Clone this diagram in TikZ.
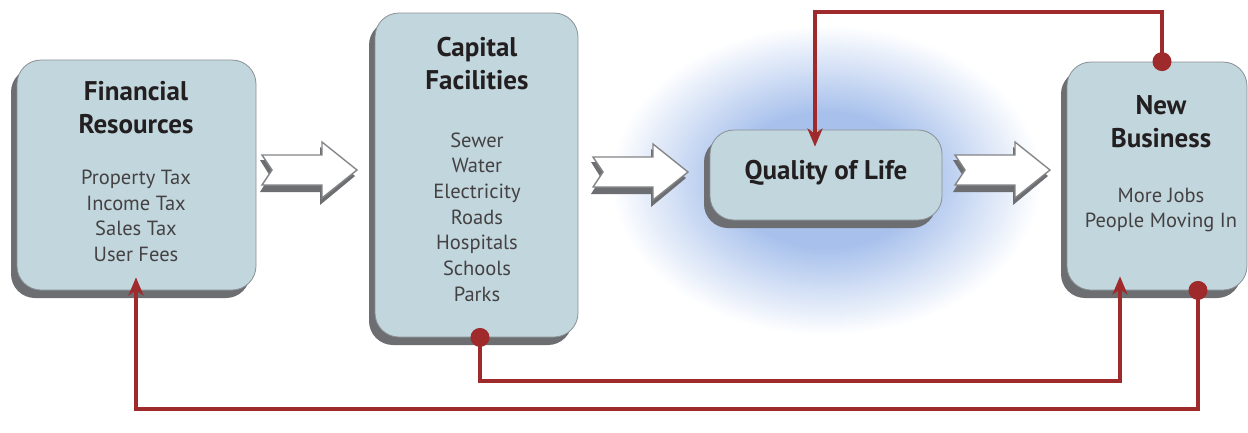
\documentclass[tikz,border=0pt]{standalone}
\usepackage{fontspec}
\setmainfont{PT Sans}
\usetikzlibrary{arrows.meta,shadows,calc}
\definecolor{boxfill}{HTML}{C2D6DE}
\definecolor{boxline}{HTML}{8A9094}
\definecolor{shadowgray}{HTML}{6D6E71}
\definecolor{loopred}{HTML}{9E2A2B}
\definecolor{glowblue}{HTML}{A8C1EC}
\definecolor{txt}{HTML}{231F20}
\pgfdeclareradialshading{qglow}{\pgfpoint{0bp}{0bp}}{color(0bp)=(glowblue); color(11bp)=(glowblue); color(25bp)=(white); color(50bp)=(white)}
\begin{document}
\begin{tikzpicture}[x=1pt,y=-1pt,
  box/.style={draw=boxline, line width=0.8pt, fill=boxfill, rounded corners=24pt,
    drop shadow={shadow xshift=-6pt, shadow yshift=-8pt, fill=shadowgray, opacity=1}},
  title/.style={font=\fontsize{27}{33}\selectfont\bfseries, text=txt, align=center},
  items/.style={font=\fontsize{20.5}{25.7}\selectfont, text=txt!85, align=center},
  loop/.style={draw=loopred, line width=3.5pt},
  dot/.style={circle, fill=loopred, minimum size=19pt, inner sep=0pt},
  tipend/.style={-{Stealth[length=18pt,width=15pt,inset=5pt]}},
  hollow/.pic={
    \fill[shadowgray] (-2,-10) -- (58,-10) -- (58,-23) -- (93,6) -- (58,35) -- (58,22) -- (-2,22) -- (8,6) -- cycle;
    \draw[shadowgray!85, line width=1.4pt, fill=white, line join=miter] (0,-15) -- (60,-15) -- (60,-28) -- (95,0) -- (60,28) -- (60,15) -- (0,15) -- (10,0) -- cycle;
  }]
\useasboundingbox (0,0) rectangle (1248,432);

% glow behind Quality of Life
\shade[shading=qglow] (826,180) ellipse [x radius=215, y radius=155];

% boxes
\node[box, minimum width=239pt, minimum height=230pt] (fr) at (136.5,175) {};
\node[box, minimum width=203pt, minimum height=324pt] (cf) at (476.5,175) {};
\node[box, minimum width=232pt, minimum height=90pt] (ql) at (826,175) {};
\node[box, minimum width=180pt, minimum height=228pt] (nb) at (1157,176) {};

% texts
\node[title] (frt) at (136,108) {Financial\\Resources};
\node[items] (fri) at (136,216) {Property Tax\\Income Tax\\Sales Tax\\User Fees};
\node[title] (cft) at (477,64) {Capital\\Facilities};
\node[items] (cfi) at (477,217) {Sewer\\Water\\Electricity\\Roads\\Hospitals\\Schools\\Parks};
\node[title] (qlt) at (826,173) {Quality of Life};
\node[title] (nbt) at (1161,122) {New\\Business};
\node[items] (nbi) at (1161,210) {More Jobs\\People Moving In};

% hollow arrows
\pic (ha1) at (262,170) {hollow};
\pic (ha2) at (593,172) {hollow};
\pic (ha3) at (955,170) {hollow};

% feedback loops
\coordinate (xdA) at (1162,0);
\coordinate (xdB) at (480,0);
\coordinate (xdC) at (1198,0);
\coordinate (topA) at (815,12);
\coordinate (botB) at (1120,381);
\coordinate (botC) at (136,409);

\node[dot] (dA) at (nb.north -| xdA) {};
\node[dot] (dB) at (cf.south -| xdB) {};
\node[dot] (dC) at (nb.south -| xdC) {};

\draw[loop, tipend] (dA.center) |- (topA) -- ($(ql.north -| topA)+(0,17)$);
\draw[loop, tipend] (dB.center) |- (botB) -- ($(nb.south -| botB)+(0,-14)$);
\draw[loop, tipend] (dC.center) |- (botC) -- ($(fr.south -| botC)+(0,-13)$);
\end{tikzpicture}
\end{document}
